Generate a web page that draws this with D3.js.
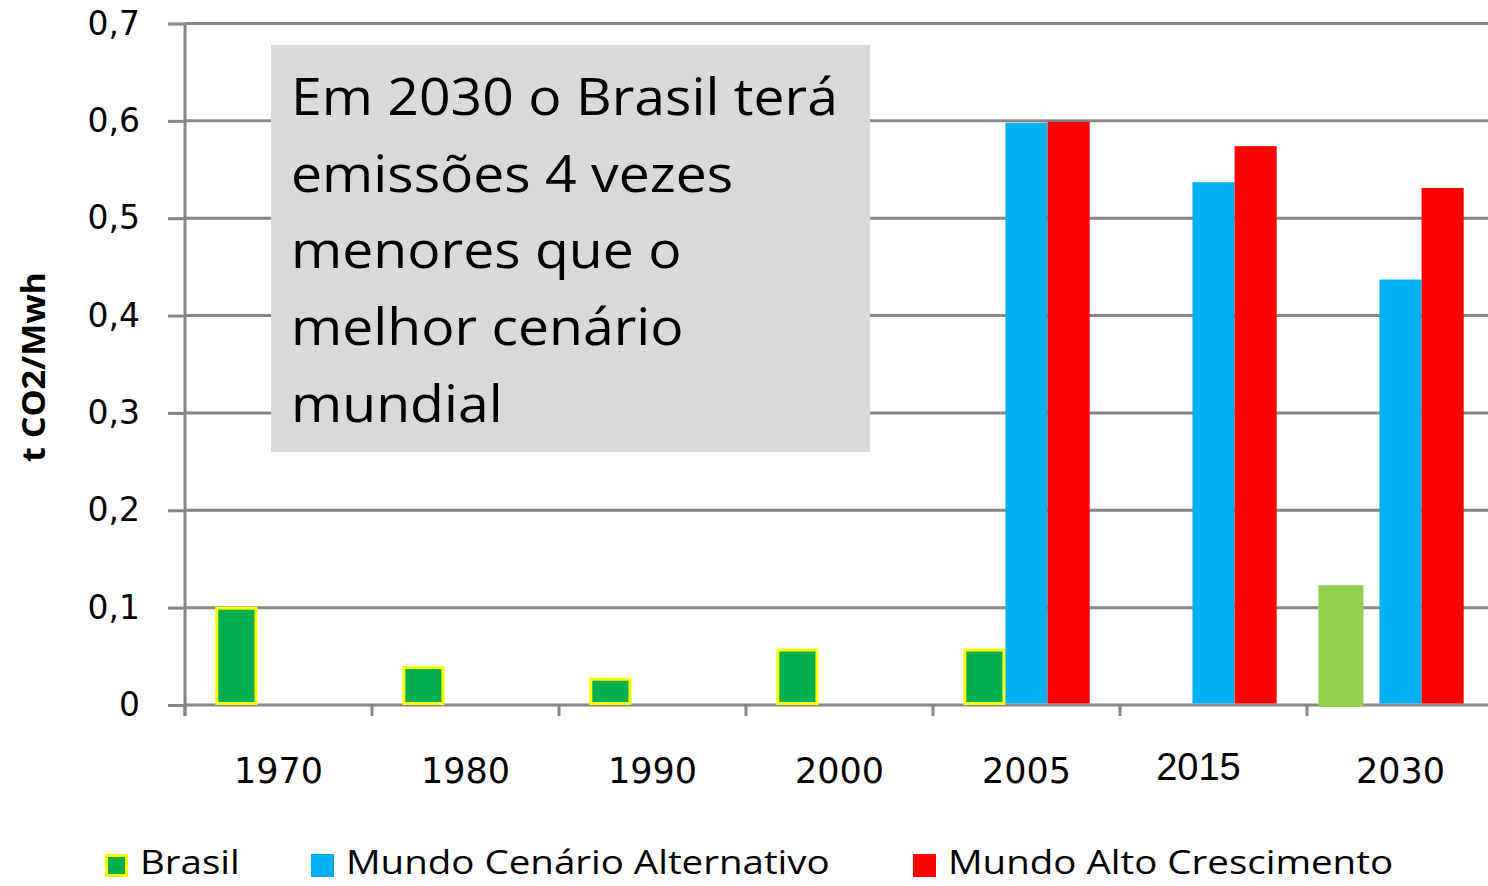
<!DOCTYPE html>
<html>
<head>
<meta charset="utf-8">
<script src="https://cdn.jsdelivr.net/npm/d3@7"></script>
<style>
  body { margin: 0; background: #fff; }
  svg { display: block; }
</style>
</head>
<body>
<svg id="chart" width="1488" height="886"></svg>
<script>
// values (t CO2/MWh)
const years = ["1970", "1980", "1990", "2000", "2005", "2015", "2030"];
const brasil = [0.101, 0.040, 0.028, 0.058, 0.058, null, 0.123];
const mundoAlternativo = [null, null, null, null, 0.598, 0.537, 0.437];
const mundoAlto = [null, null, null, null, 0.599, 0.574, 0.531];
const seriesNames = ["Brasil", "Mundo Cenário Alternativo", "Mundo Alto Crescimento"];
const yTicks = [0, 0.1, 0.2, 0.3, 0.4, 0.5, 0.6, 0.7];
const noteLines = ["Em 2030 o Brasil terá", "emissões 4 vezes", "menores que o", "melhor cenário", "mundial"];

const colors = ["#00b050", "#00b0f0", "#ff0000"];
const brasilStroke = "#ffff00";
const highlightColor = "#92d050"; // the 2030 Brasil bar is drawn lighter, no outline
const gridColor = "#868686";

const svg = d3.select("#chart");
const plotL = 185, plotR = 1488, plotT = 23.5, plotB = 705;

const y = d3.scaleLinear().domain([0, 0.7]).range([plotB, plotT]);
const x0 = d3.scaleBand().domain(years).range([plotL, plotL + years.length * 187]);
const x1 = d3.scaleBand().domain(seriesNames).range([0, x0.bandwidth()])
  .paddingInner(0).paddingOuter(0.72);

const comma = d3.formatLocale({ decimal: ",", thousands: ".", grouping: [3], currency: ["", ""] });
const fmt = d => d === 0 ? "0" : comma.format(".1f")(d);

// gridlines
svg.append("g").selectAll("line")
  .data(yTicks)
  .join("line")
  .attr("x1", plotL).attr("x2", plotR)
  .attr("y1", d => y(d)).attr("y2", d => y(d))
  .attr("stroke", gridColor).attr("stroke-width", 3);

// y axis labels + little ticks to the left
const yAxis = svg.append("g")
  .attr("transform", `translate(${plotL},0)`)
  .call(d3.axisLeft(y).tickValues(yTicks).tickFormat(fmt).tickSize(17).tickPadding(28));
yAxis.select(".domain").remove();
yAxis.selectAll(".tick line").attr("stroke", gridColor).attr("stroke-width", 3);
yAxis.selectAll(".tick text")
  .attr("font-family", "DejaVu Sans").attr("font-size", 33).attr("fill", "#000");

// vertical axis line
svg.append("line")
  .attr("x1", plotL).attr("x2", plotL).attr("y1", plotT).attr("y2", plotB + 11)
  .attr("stroke", gridColor).attr("stroke-width", 3);

// category ticks on the x axis
svg.append("g").selectAll("line")
  .data(years)
  .join("line")
  .attr("x1", d => x0(d)).attr("x2", d => x0(d))
  .attr("y1", plotB).attr("y2", plotB + 11)
  .attr("stroke", gridColor).attr("stroke-width", 3);

// bars
const allSeries = [brasil, mundoAlternativo, mundoAlto];
allSeries.forEach(function(vals, si) {
  const rows = years.map((yr, i) => ({ year: yr, v: vals[i] })).filter(d => d.v != null);
  const g = svg.append("g");
  if (si === 0) {
    g.selectAll("rect")
      .data(rows)
      .join("rect")
      .attr("x", function(d) {
        const bx = x0(d.year) + x1(seriesNames[si]);
        return d.year === "2030" ? bx - 19 : bx + 1.5;
      })
      .attr("width", d => d.year === "2030" ? x1.bandwidth() + 3 : x1.bandwidth() - 3)
      .attr("y", d => y(d.v) + (d.year === "2030" ? 0 : 1.5))
      .attr("height", d => d.year === "2030" ? plotB + 2 - y(d.v) : plotB - 3 - y(d.v))
      .attr("fill", d => d.year === "2030" ? highlightColor : colors[0])
      .attr("stroke", d => d.year === "2030" ? "none" : brasilStroke)
      .attr("stroke-width", 3);
  } else {
    g.selectAll("rect")
      .data(rows)
      .join("rect")
      .attr("x", d => x0(d.year) + x1(seriesNames[si]))
      .attr("width", x1.bandwidth())
      .attr("y", d => y(d.v))
      .attr("height", d => plotB - 1.5 - y(d.v))
      .attr("fill", colors[si]);
  }
});

// x labels (2015 sits a bit off, as in the original)
svg.append("g").selectAll("text")
  .data(years)
  .join("text")
  .attr("x", d => x0(d) + x0.bandwidth() / 2 + (d === "2015" ? -15 : 0))
  .attr("y", d => d === "2015" ? 780 : 783)
  .attr("text-anchor", "middle")
  .attr("font-family", d => d === "2015" ? "Liberation Sans" : "DejaVu Sans")
  .attr("font-size", d => d === "2015" ? 38 : 35)
  .text(d => d);

// y title
svg.append("text")
  .attr("transform", "translate(45,367) rotate(-90)")
  .attr("text-anchor", "middle")
  .attr("font-family", "Open Sans").attr("font-weight", "bold").attr("font-size", 32)
  .attr("textLength", 190).attr("lengthAdjust", "spacingAndGlyphs")
  .text("t CO2/Mwh");

// note box
svg.append("rect")
  .attr("x", 271).attr("y", 45).attr("width", 599).attr("height", 407)
  .attr("fill", "#d9d9d9");
const note = svg.append("g").attr("transform", "translate(291,0)");
const noteText = note.selectAll("text")
  .data(noteLines)
  .join("text")
  .attr("x", 0)
  .attr("y", (d, i) => 115 + i * 76.75)
  .attr("font-family", "Open Sans").attr("font-size", 52).attr("fill", "#000")
  .text(d => d);
const w0 = noteText.node().getComputedTextLength();
note.attr("transform", `translate(291,0) scale(${547 / w0},1)`);

// legend
const legendX = [105, 311, 913];
const legend = svg.append("g");
legend.selectAll("rect")
  .data(seriesNames)
  .join("rect")
  .attr("x", (d, i) => legendX[i] + (i === 0 ? 1.5 : 0))
  .attr("y", (d, i) => 854 + (i === 0 ? 1.5 : 0))
  .attr("width", (d, i) => i === 0 ? 20 : 23)
  .attr("height", (d, i) => i === 0 ? 20 : 23)
  .attr("fill", (d, i) => colors[i])
  .attr("stroke", (d, i) => i === 0 ? brasilStroke : "none")
  .attr("stroke-width", 3);
const legText = legend.selectAll("text")
  .data(seriesNames)
  .join("text")
  .attr("y", 874)
  .attr("font-family", "Open Sans").attr("font-size", 32).attr("fill", "#000")
  .text(d => d);
const wLeg = legText.nodes()[1].getComputedTextLength();
const sx = 484 / wLeg;
legText
  .attr("x", (d, i) => (legendX[i] + 35) / sx)
  .attr("transform", `scale(${sx},1)`);
</script>
</body>
</html>
